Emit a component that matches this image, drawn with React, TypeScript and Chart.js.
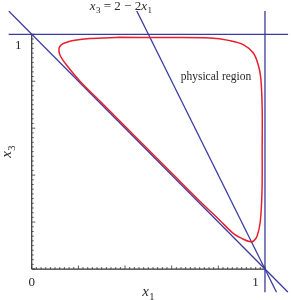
import React, { useEffect, useRef } from "react";
import { Chart, registerables } from "chart.js";

Chart.register(...registerables);

// Axis range
const X_MIN = -0.1;
const X_MAX = 1.1;
const Y_MIN = -0.1;
const Y_MAX = 1.1;

// Boundary lines
const topLineX = [-0.1, 1.1]; // x3 = 1
const topLineY = [1, 1];
const rightLineX = [1, 1]; // x1 = 1
const rightLineY = [-0.1, 1.1];
const diagLineX = [-0.1, 1.1]; // x3 = 1 - x1
const diagLineY = [1.1, -0.1];
const steepLineX = [0.45, 1.05]; // x3 = 2 - 2 x1
const steepLineY = [1.1, -0.1];

// Physical region boundary (closed loop)
const loopX = [0.378, 0.55, 0.764, 0.85, 0.907, 0.95, 0.971, 0.982, 0.988, 0.988, 0.988, 0.986, 0.979, 0.966, 0.952, 0.938, 0.905, 0.864, 0.807, 0.721, 0.6, 0.45, 0.307, 0.207, 0.15, 0.121, 0.117, 0.128, 0.145, 0.178, 0.25, 0.378];
const loopY = [0.987, 0.986, 0.984, 0.973, 0.956, 0.92, 0.87, 0.814, 0.686, 0.5, 0.379, 0.294, 0.195, 0.14, 0.12, 0.116, 0.128, 0.152, 0.207, 0.289, 0.409, 0.558, 0.701, 0.8, 0.868, 0.912, 0.941, 0.956, 0.964, 0.973, 0.982, 0.987];

// Ticks
const majorTicks = [0, 0.2, 0.4, 0.6, 0.8, 1];
const minorStep = 0.02;
const xTickValues = [0, 1];
const xTickLabels = ["0", "1"];
const yTickValues = [1];
const yTickLabels = ["1"];

const BLUE = "#3b3ba0";
const RED = "#e8202c";
const TEXT = "#2a2a2a";
const SERIF = '"Liberation Serif", "DejaVu Serif", serif';

function toPts(xs: number[], ys: number[]) {
  return xs.map((x, i) => ({ x, y: ys[i] }));
}

function drawSub(ctx: CanvasRenderingContext2D, base: string, sub: string, x: number, y: number, size: number) {
  ctx.font = `italic ${size}px ${SERIF}`;
  ctx.fillText(base, x, y);
  const w = ctx.measureText(base).width;
  ctx.font = `${size * 0.7}px ${SERIF}`;
  ctx.fillText(sub, x + w + 0.5, y + size * 0.25);
  return w + 0.5 + ctx.measureText(sub).width;
}

function subWidth(ctx: CanvasRenderingContext2D, base: string, sub: string, size: number) {
  ctx.font = `italic ${size}px ${SERIF}`;
  const w = ctx.measureText(base).width;
  ctx.font = `${size * 0.7}px ${SERIF}`;
  return w + 0.5 + ctx.measureText(sub).width;
}

const axesPlugin = {
  id: "customAxes",
  beforeDatasetsDraw(chart: any) {
    const { ctx, scales } = chart;
    const sx = scales.x;
    const sy = scales.y;
    const x0 = sx.getPixelForValue(0);
    const x1 = sx.getPixelForValue(1);
    const y0 = sy.getPixelForValue(0);
    const y1 = sy.getPixelForValue(1);
    ctx.save();
    ctx.strokeStyle = "#333";
    ctx.lineWidth = 1.2;
    ctx.beginPath();
    ctx.moveTo(x0, y0);
    ctx.lineTo(x1, y0);
    ctx.moveTo(x0, y0);
    ctx.lineTo(x0, y1);
    ctx.stroke();
    ctx.lineWidth = 0.8;
    ctx.beginPath();
    const n = Math.round(1 / minorStep);
    for (let i = 0; i <= n; i++) {
      const v = i * minorStep;
      const isMajor = majorTicks.some((m) => Math.abs(m - v) < 1e-6);
      const len = isMajor ? 3.5 : 2;
      const px = sx.getPixelForValue(v);
      ctx.moveTo(px, y0);
      ctx.lineTo(px, y0 - len);
      const py = sy.getPixelForValue(v);
      ctx.moveTo(x0, py);
      ctx.lineTo(x0 + len, py);
    }
    ctx.stroke();
    ctx.restore();
  },
  afterDatasetsDraw(chart: any) {
    const { ctx, scales } = chart;
    const sx = scales.x;
    const sy = scales.y;
    const x0 = sx.getPixelForValue(0);
    const y0 = sy.getPixelForValue(0);
    ctx.save();
    ctx.fillStyle = TEXT;
    ctx.textBaseline = "alphabetic";
    ctx.font = `13px ${SERIF}`;
    ctx.textAlign = "center";
    xTickValues.forEach((v, i) => {
      const off = v === 1 ? -9.5 : 0;
      ctx.fillText(xTickLabels[i], sx.getPixelForValue(v) + off, y0 + 17);
    });
    yTickValues.forEach((v, i) => {
      ctx.fillText(yTickLabels[i], x0 - 13.5, sy.getPixelForValue(v) + 15);
    });
    ctx.textAlign = "left";
    // x-axis title
    const size = 15;
    const wx = subWidth(ctx, "x", "1", size);
    drawSub(ctx, "x", "1", sx.getPixelForValue(0.5) - wx / 2, 296, size);
    // y-axis title
    ctx.save();
    const cy = sy.getPixelForValue(0.5);
    ctx.translate(11, cy);
    ctx.rotate(-Math.PI / 2);
    ctx.fillStyle = TEXT;
    const wy = subWidth(ctx, "x", "3", size);
    drawSub(ctx, "x", "3", -wy / 2, 0, size);
    ctx.restore();
    // line annotation x3 = 2 - 2x1
    ctx.fillStyle = TEXT;
    const fs = 13;
    let ax = sx.getPixelForValue(steepLineX[0]) - 47;
    const ay = 9.5;
    ax += drawSub(ctx, "x", "3", ax, ay, fs);
    ctx.font = `${fs}px ${SERIF}`;
    const mid = " = 2 \u2212 2";
    ctx.fillText(mid, ax, ay);
    ax += ctx.measureText(mid).width;
    drawSub(ctx, "x", "1", ax, ay, fs);
    // physical region label
    ctx.font = `11.5px ${SERIF}`;
    ctx.textAlign = "center";
    ctx.textBaseline = "middle";
    ctx.fillText("physical region", sx.getPixelForValue(0.79), sy.getPixelForValue(0.82));
    ctx.restore();
  },
};

export default function App() {
  const ref = useRef<HTMLCanvasElement | null>(null);
  useEffect(() => {
    if (!ref.current) return;
    const blue = (data: any) => ({
      data,
      showLine: true,
      borderColor: BLUE,
      borderWidth: 1.3,
      pointRadius: 0,
      fill: false,
      order: 1,
    });
    const chart = new Chart(ref.current, {
      type: "scatter",
      data: {
        datasets: [
          {
            data: toPts(loopX, loopY),
            showLine: true,
            borderColor: RED,
            borderWidth: 1.5,
            pointRadius: 0,
            tension: 0.35,
            fill: false,
            order: 0,
          } as any,
          blue(toPts(topLineX, topLineY)),
          blue(toPts(rightLineX, rightLineY)),
          blue(toPts(diagLineX, diagLineY)),
          blue(toPts(steepLineX, steepLineY)),
        ],
      },
      options: {
        animation: false,
        responsive: false,
        devicePixelRatio: 1,
        layout: { padding: { left: 8.4, right: 2.7, top: 10.8, bottom: 7.5 } },
        plugins: { legend: { display: false }, tooltip: { enabled: false } },
        scales: {
          x: { type: "linear", min: X_MIN, max: X_MAX, display: false },
          y: { type: "linear", min: Y_MIN, max: Y_MAX, display: false },
        },
      },
      plugins: [axesPlugin],
    });
    return () => chart.destroy();
  }, []);
  return (
    <div style={{ position: "fixed", left: 0, top: 0, width: 291, height: 300, background: "#fff" }}>
      <canvas ref={ref} width={291} height={300} style={{ display: "block" }} />
    </div>
  );
}
